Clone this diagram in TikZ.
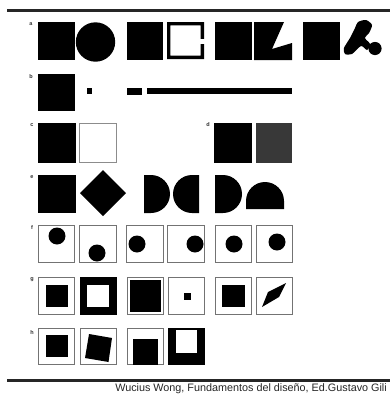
\documentclass[tikz,border=0pt]{standalone}
\usepackage{fontspec}
\setmainfont{Liberation Sans}
\begin{document}
\tikzset{
  frame/.style={draw=black!55, line width=1.2pt, fill=white},
  lbl/.style={font=\fontsize{5.5}{5.5}\selectfont\bfseries, inner sep=0pt, text=black!80},
  rule/.style={line width=2.5pt, draw=black!85},
  dot/.style={fill=black},
}
\begin{tikzpicture}[x=1pt,y=-1pt]
\useasboundingbox (0,0) rectangle (390,394);
\fill[white] (0,0) rectangle (390,394);
% rules
\draw[rule] (7,10.7) -- (390,10.7);
\draw[rule] (7,380.5) -- (390,380.5);
% labels
\node[lbl] (la) at (31,24) {a};
\node[lbl] (lb) at (31,77) {b};
\node[lbl] (lc) at (32,125) {c};
\node[lbl] (ld) at (208,125) {d};
\node[lbl] (le) at (32,177) {e};
\node[lbl] (lf) at (32,228) {f};
\node[lbl] (lg) at (32,280) {g};
\node[lbl] (lh) at (32,333) {h};
% row a
\fill (38,22) rectangle (75,60);
\fill (95.5,42) circle (19.7pt);
\fill (127,22) rectangle (163,60);
\fill[even odd rule] (167,22) rectangle (204,59) (170.3,25.3) rectangle (200.7,55.7);
\fill[white] (200,39) rectangle (205,44);
\fill (215,22) rectangle (252,60);
\fill (254,22) -- (284,22) -- (272,49) -- (292,43) -- (292,60) -- (254,60) -- cycle;
\fill (303,22) rectangle (340,60);
\fill plot[smooth cycle, tension=0.45] coordinates {(358,22) (366,20) (372,25) (369,33) (365,38) (370,44) (367,50) (361,46) (352,54) (345,54) (344,48) (350,38) (355,28)};
\fill (375,48.5) circle (6.6pt);
% row b
\fill (38,74) rectangle (75,111);
\fill (87,88) rectangle (92,94);
\fill (127,88) rectangle (142,95);
\fill (147,88) rectangle (292,94);
% row c, d
\fill (38,123) rectangle (76,163);
\draw[draw=black!45, line width=1pt] (79.5,123.5) rectangle (116.5,162.5);
\fill (214,123) rectangle (252,163);
\fill[black!78] (256,123) rectangle (292,163);
% row e
\fill (38,175) rectangle (76,213);
\fill (103,170) -- (126,193) -- (103,216) -- (80,193) -- cycle;
\fill (144,175) -- (151,175) arc[start angle=90, end angle=-90, radius=19pt] -- (144,213) -- cycle;
\fill (199,175) -- (192,175) arc[start angle=90, end angle=270, radius=19pt] -- (199,213) -- cycle;
\fill (215,175) -- (223,175) arc[start angle=90, end angle=-90, radius=19pt] -- (215,213) -- cycle;
\fill (246,209) -- (246,201) arc[start angle=180, end angle=0, radius=19pt] -- (284,209) -- cycle;
% row f
\draw[frame] (38.6,225.6) rectangle (74.4,262.4);
\draw[frame] (79.6,225.6) rectangle (116.4,262.4);
\draw[frame] (126.6,225.6) rectangle (163.4,262.4);
\draw[frame] (167.6,225.6) rectangle (204.4,262.4);
\draw[frame] (215.6,225.6) rectangle (251.4,262.4);
\draw[frame] (256.6,225.6) rectangle (292.4,262.4);
\fill[dot] (57,236) circle (8.5pt);
\fill[dot] (97,253) circle (8.5pt);
\fill[dot] (137,244) circle (8.5pt);
\fill[dot] (195,244) circle (8.5pt);
\fill[dot] (234,244) circle (8.5pt);
\fill[dot] (277,242) circle (8.5pt);
% row g
\draw[frame] (38.6,277.6) rectangle (74.4,314.4);
\fill (46,285) rectangle (68,307);
\fill (80,277) rectangle (117,315);
\fill[white] (87,285) rectangle (109,307);
\draw[frame] (127.6,277.6) rectangle (163.4,314.4);
\fill (130,280) rectangle (161,312);
\draw[frame] (168.6,277.6) rectangle (204.4,314.4);
\fill (184,293) rectangle (191,300);
\draw[frame] (215.6,277.6) rectangle (251.4,314.4);
\fill (222,285) rectangle (245,307);
\draw[frame] (256.6,277.6) rectangle (292.4,314.4);
\fill (262,307) -- (268,292) -- (286,283) -- (279,297) -- cycle;
% row h
\draw[frame] (38.6,328.6) rectangle (74.4,364.4);
\fill (46,335) rectangle (68,357);
\draw[frame] (80.6,328.6) rectangle (116.4,364.4);
\fill (89,334) -- (112,338) -- (108.5,362) -- (85,358) -- cycle;
\draw[frame] (127.6,328.6) rectangle (163.4,364.4);
\fill (133,339) rectangle (158,365);
\fill (168,328) rectangle (205,365);
\fill[white] (176,329.5) rectangle (197,353);
% caption
\node[anchor=base east, font=\fontsize{10.8}{12}\selectfont, inner sep=0pt, text=black!85] (cap) at (387,391.3) {Wucius Wong, Fundamentos del diseño, Ed.Gustavo Gili};
\end{tikzpicture}
\end{document}
